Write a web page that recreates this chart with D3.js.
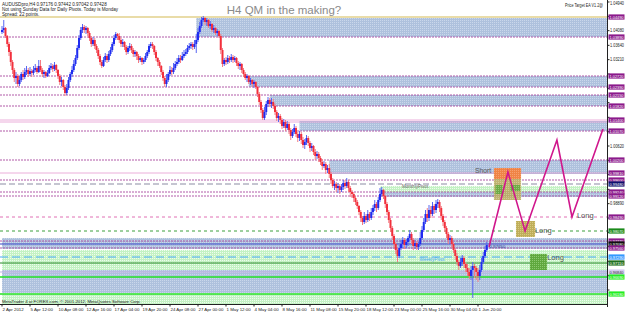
<!DOCTYPE html>
<meta charset="utf-8">
<style>
body { margin: 0; background: #fff; }
svg { display: block; font-family: "Liberation Sans", Arial, sans-serif; }
</style>
<svg width="625" height="313"></svg>
<script src="https://d3js.org/d3.v7.min.js"></script>
<script>

// AUDUSD H4 candles, prices in points (price * 10000)
var firstOpen = 10404;
var closes = [
10410,10416,10392,10368,10344,10314,10290,10266,10272,10248,
10260,10278,10269,10284,10290,10278,10287,10281,10290,10296,
10284,10302,10290,10278,10284,10272,10281,10296,10302,10293,
10305,10290,10272,10254,10260,10239,10221,10236,10260,10278,
10290,10308,10326,10356,10386,10410,10419,10410,10416,10401,
10386,10368,10380,10362,10350,10332,10314,10302,10320,10332,
10320,10338,10350,10368,10386,10398,10392,10380,10368,10374,
10359,10344,10356,10362,10350,10338,10344,10332,10320,10326,
10314,10320,10332,10344,10362,10368,10362,10344,10326,10314,
10302,10284,10266,10248,10260,10278,10290,10284,10296,10308,
10314,10326,10320,10332,10338,10344,10356,10362,10368,10359,
10368,10380,10404,10422,10440,10446,10434,10440,10422,10428,
10410,10416,10401,10407,10392,10350,10308,10320,10314,10326,
10320,10329,10320,10326,10311,10302,10308,10290,10278,10266,
10272,10254,10260,10248,10254,10239,10218,10194,10170,10146,
10164,10188,10200,10188,10194,10182,10164,10146,10152,10140,
10122,10134,10116,10128,10110,10092,10104,10116,10098,10086,
10098,10080,10065,10074,10086,10071,10056,10062,10044,10032,
10038,10026,10014,10002,10008,9990,9996,9978,9960,9942,
9948,9936,9942,9930,9939,9951,9942,9954,9936,9924,
9918,9906,9894,9882,9864,9846,9834,9852,9840,9858,
9846,9864,9876,9888,9876,9900,9918,9930,9912,9888,
9864,9840,9816,9792,9768,9750,9732,9756,9768,9780,
9765,9774,9786,9798,9780,9762,9771,9759,9768,9786,
9810,9834,9858,9846,9870,9858,9882,9870,9888,9894,
9876,9852,9834,9816,9798,9780,9786,9768,9750,9732,
9714,9702,9714,9726,9708,9696,9684,9672,9690,9702,
9696,9684,9672,9690,9714,9732,9750,9765];
var highs = [
10422,10440,10419,10395,10374,10350,10320,10296,10284,10278,
10272,10284,10290,10296,10302,10296,10299,10293,10302,10308,
10302,10320,10320,10296,10290,10287,10290,10305,10311,10308,
10314,10308,10293,10278,10269,10263,10245,10248,10269,10284,
10302,10320,10335,10365,10395,10419,10428,10425,10422,10419,
10407,10392,10389,10386,10368,10356,10338,10320,10329,10341,
10338,10347,10359,10374,10395,10404,10401,10401,10386,10383,
10377,10365,10362,10371,10368,10356,10350,10347,10338,10332,
10329,10326,10341,10350,10368,10374,10374,10365,10350,10329,
10320,10305,10290,10272,10278,10284,10302,10299,10311,10317,
10326,10335,10335,10344,10350,10353,10365,10371,10374,10374,
10380,10398,10416,10434,10449,10452,10449,10446,10443,10437,
10431,10425,10419,10413,10410,10398,10356,10326,10329,10335,
10332,10338,10335,10332,10329,10317,10314,10311,10296,10284,
10278,10275,10266,10263,10260,10257,10242,10224,10200,10176,
10179,10197,10209,10206,10206,10203,10188,10170,10161,10158,
10146,10143,10140,10137,10134,10116,10113,10128,10122,10104,
10107,10104,10089,10083,10095,10092,10077,10071,10065,10053,
10047,10044,10032,10023,10017,10014,10005,10008,9984,9966,
9957,9954,9951,9948,9948,9960,9960,9966,9960,9942,
9930,9924,9912,9900,9885,9870,9852,9864,9858,9870,
9864,9876,9885,9900,9894,9909,9936,9939,9933,9915,
9894,9870,9846,9822,9798,9774,9756,9765,9780,9789,
9786,9783,9792,9810,9804,9786,9780,9777,9774,9804,
9822,9846,9870,9876,9885,9882,9894,9888,9900,9903,
9900,9882,9858,9840,9822,9804,9795,9792,9774,9756,
9741,9720,9726,9735,9732,9714,9708,9696,9702,9714,
9708,9702,9696,9705,9726,9744,9762,9774];
var lows = [
10398,10401,10386,10359,10332,10302,10278,10254,10248,10239,
10242,10254,10260,10263,10275,10269,10272,10269,10275,10284,
10278,10281,10284,10269,10266,10266,10269,10278,10290,10284,
10287,10281,10263,10245,10242,10230,10212,10215,10230,10254,
10269,10284,10302,10320,10350,10380,10401,10401,10398,10392,
10377,10359,10362,10353,10341,10323,10305,10296,10299,10314,
10311,10314,10332,10344,10362,10380,10380,10371,10359,10359,
10350,10335,10338,10347,10341,10329,10329,10320,10311,10314,
10305,10308,10314,10326,10338,10356,10353,10335,10317,10302,
10296,10275,10257,10239,10239,10254,10272,10275,10278,10290,
10302,10308,10311,10317,10326,10332,10338,10350,10353,10350,
10353,10341,10374,10398,10416,10434,10425,10422,10416,10413,
10404,10401,10395,10392,10386,10338,10299,10302,10305,10308,
10311,10314,10311,10314,10302,10293,10290,10281,10269,10260,
10254,10248,10245,10239,10236,10233,10209,10185,10161,10140,
10140,10155,10179,10179,10176,10173,10155,10137,10134,10128,
10113,10116,10107,10110,10098,10080,10086,10098,10089,10074,
10077,10068,10056,10053,10065,10062,10044,10047,10035,10020,
10023,10014,10005,9990,9996,9978,9981,9966,9948,9936,
9930,9924,9921,9918,9924,9930,9933,9936,9924,9909,
9906,9894,9885,9873,9855,9834,9825,9828,9831,9834,
9837,9840,9855,9867,9864,9870,9894,9912,9903,9876,
9855,9831,9804,9780,9756,9738,9714,9726,9750,9756,
9753,9756,9762,9777,9768,9750,9753,9750,9750,9762,
9780,9804,9828,9834,9837,9846,9852,9858,9861,9876,
9864,9840,9822,9804,9786,9768,9768,9756,9741,9720,
9705,9690,9696,9702,9696,9684,9672,9663,9660,9606,
9666,9660,9654,9660,9684,9708,9726,9744];

// time axis labels, one every 16 bars
var dateLabels = ["2 Apr 2012","5 Apr 12:00","10 Apr 08:00","12 Apr 16:00","17 Apr 04:00",
  "19 Apr 20:00","24 Apr 08:00","27 Apr 00:00","1 May 12:00","4 May 04:00","8 May 16:00",
  "11 May 08:00","15 May 20:00","18 May 12:00","23 May 00:00","25 May 16:00","30 May 04:00","1 Jun 20:00"];

// price scale ticks
var priceTicks = [10494,10451,10408,10364,10321,10278,10235,10192,10148,10105,10062,
  10019,9976,9932,9889,9846,9803,9760,9716,9673,9630];

// supply / demand zones
var zoneTops    = [10449,10272,10215,10137,10020,9942,9942,9786,9750,9690,9618];
var zoneBottoms = [10389,10239,10182,10107,9978,9909,9924,9753,9690,9621,9588];
var zoneStart   = [111,141,153,170,187,216,216,0,0,0,0];
var zoneKinds   = ["blue","blue","blue","blue","blue","blue","green","blue","green","blue","green"];

// horizontal levels with price labels on the axis
var levelPrices = [10449,10389,10272,10239,10215,10182,10140,10134,10107,10020,9981,9960,
  9948,9924,9912,9849,9807,9777,9768,9756,9729,9711,9684,9669,9618];
var levelKinds = ["top","sr","sr","sr","sr","sr","pink","pink","sr","sr","pink","sr",
  "monthly","sr","sr","pinkDash","greenDash","sr","blue","sr","weekly","dkgreen","lav","lime","lime"];

// projected zigzag (bar index, price)
var zigBars   = [278.3, 289.1, 298.9, 317.1, 325.7, 343.4];
var zigPrices = [9759, 9984, 9807, 10080, 9849, 10113];

var svg = d3.select("svg");
var W = 607.5, H = 304;

var x = d3.scaleLinear().domain([0, 346]).range([2, W]);
var y = d3.scaleLinear().domain([9588, 10500]).range([H, 0]);
var fmt = function(p) { return (p / 10000).toFixed(5); };

// dotted fills like the MT4 rectangles
var defs = svg.append("defs");
function dots(id, bg, dot) {
  var p = defs.append("pattern").attr("id", id).attr("patternUnits", "userSpaceOnUse")
    .attr("width", 2).attr("height", 2);
  p.append("rect").attr("width", 2).attr("height", 2).attr("fill", bg);
  p.append("rect").attr("width", 1).attr("height", 1).attr("fill", dot);
}
dots("pBlue", "#aec1dd", "#cad7eb");
dots("pGreen", "#c4f2c4", "#eefcee");
dots("pKhaki", "#bfae5a", "#d8c980");
dots("pOlive", "#b9ad62", "#cfc48a");
dots("pGrn", "#5fa83e", "#8cc870");
dots("pOrange", "#ef8446", "#f6a070");

svg.append("rect").attr("width", 625).attr("height", 313).attr("fill", "#fff");

var plot = svg.append("g");

// zones
plot.selectAll("rect.zone").data(zoneTops).enter().append("rect")
  .attr("class", "zone")
  .attr("x", function(d, i) { return x(zoneStart[i]); })
  .attr("width", function(d, i) { return W - x(zoneStart[i]); })
  .attr("y", function(d) { return y(d); })
  .attr("height", function(d, i) { return y(zoneBottoms[i]) - y(d); })
  .attr("fill", function(d, i) { return zoneKinds[i] == "blue" ? "url(#pBlue)" : "url(#pGreen)"; });

// level lines: stroke, width, dash, label box, label text
var lineStyle = {
  top: ["#e9dca8", 2, null, "#8b1a8b", "#fff"],
  sr: ["#a8489e", 0.9, "2,1", "#8b1a8b", "#fff"],
  pink: ["#e69ad0", 0.8, null, "#8b1a8b", "#fff"],
  monthly: ["#8c8ca4", 1.2, "6,3", "#10106e", "#fff"],
  pinkDash: ["#e070b4", 1, "3,3", "#8b1a8b", "#fff"],
  greenDash: ["#3ca03c", 1, "3,3", "#1a8a1a", "#fff"],
  blue: ["#3848c8", 1.2, null, "#101010", "#fff"],
  weekly: ["#49aaf5", 1.2, "8,4", "#3399ff", "#fff"],
  dkgreen: ["#2a8a2a", 1, null, "#1f6f1f", "#fff"],
  lav: ["#c4b4e4", 1.2, null, "#d4ccf0", "#333"],
  lime: ["#22e022", 1.6, null, "#22ee22", "#fff"]
};
plot.selectAll("line.level").data(levelPrices).enter().append("line")
  .attr("x1", 0).attr("x2", W)
  .attr("y1", function(d) { return y(d); }).attr("y2", function(d) { return y(d); })
  .attr("stroke", function(d, i) { return lineStyle[levelKinds[i]][0]; })
  .attr("stroke-width", function(d, i) { return lineStyle[levelKinds[i]][1]; })
  .attr("stroke-dasharray", function(d, i) { return lineStyle[levelKinds[i]][2]; });

// candles
var candles = closes.map(function(c, i) {
  var o = i ? closes[i - 1] : firstOpen;
  return { i: i, o: o, c: c, h: Math.max(highs[i], o, c), l: Math.min(lows[i], o, c) };
});
var cg = plot.append("g");
cg.selectAll("line").data(candles).enter().append("line")
  .attr("x1", function(d) { return x(d.i); }).attr("x2", function(d) { return x(d.i); })
  .attr("y1", function(d) { return y(d.h); }).attr("y2", function(d) { return y(d.l); })
  .attr("stroke", function(d) { return d.c >= d.o ? "#5866f2" : "#f47c84"; })
  .attr("stroke-width", 1);
cg.selectAll("rect").data(candles).enter().append("rect")
  .attr("x", function(d) { return x(d.i) - 1; })
  .attr("width", 2)
  .attr("y", function(d) { return y(Math.max(d.o, d.c)); })
  .attr("height", function(d) { return Math.max(1, Math.abs(y(d.o) - y(d.c))); })
  .attr("fill", function(d) { return d.c >= d.o ? "#1f2cf0" : "#f2303c"; });

// target boxes
function box(b0, b1, p0, p1, fill, op) {
  plot.append("rect").attr("x", x(b0)).attr("width", x(b1) - x(b0))
    .attr("y", y(p0)).attr("height", y(p1) - y(p0)).attr("fill", fill).attr("opacity", op || 1);
}
box(281.1, 296.6, 9963, 9900, "url(#pOlive)", 0.9);
box(281.1, 296.6, 9996, 9963, "url(#pOrange)");
box(282.0, 286.0, 9945, 9918, "url(#pGrn)", 0.85);
box(290.5, 296.0, 9945, 9927, "url(#pGrn)", 0.85);
box(293.7, 304.6, 9837, 9789, "url(#pKhaki)");
box(301.7, 311.4, 9738, 9690, "url(#pGrn)");

// zigzag projection
var zig = d3.line().x(function(d) { return x(d[0]); }).y(function(d) { return y(d[1]); });
plot.append("path").datum(zigBars.map(function(b, i) { return [b, zigPrices[i]]; }))
  .attr("d", zig).attr("fill", "none").attr("stroke", "#d0168c").attr("stroke-width", 1.6);

// annotations
function note(t, b, p, size, col) {
  return plot.append("text").attr("x", x(b)).attr("y", y(p)).attr("font-size", size)
    .attr("fill", col).text(t);
}
note("Short", 270.3, 9981, 6.8, "#555");
note("Long", 304.5, 9800, 7.5, "#555");
note("Long", 311.5, 9720, 7.5, "#555");
note("Long", 328.5, 9845, 7.5, "#555");
note("MonthlyPivot", 228.5, 9937, 4.6, "#666");
note("WeeklyPivot", 238.5, 9717, 4.6, "#49aaf5");
note(fmt(closes[closes.length - 1]), 278.5, 9755, 4.4, "#2a3a9a");

// frame and axes
svg.append("line").attr("x1", W).attr("x2", W).attr("y1", 0).attr("y2", H + 3)
  .attr("stroke", "#222").attr("stroke-width", 1);
svg.append("line").attr("x1", 0).attr("x2", W).attr("y1", H + 0.5).attr("y2", H + 0.5)
  .attr("stroke", "#222").attr("stroke-width", 1);

// plain price ticks; those sitting under a level label are covered in the original
var freeTicks = priceTicks.filter(function(t) {
  return levelPrices.every(function(p) { return Math.abs(y(p) - y(t)) > 5; });
});
var ax = svg.append("g").attr("font-size", 4.6).attr("fill", "#222");
ax.selectAll("text.pt").data(freeTicks).enter().append("text")
  .attr("x", W + 2.5).attr("y", function(d) { return Math.max(y(d) + 1.7, 5); })
  .attr("textLength", 14).attr("lengthAdjust", "spacingAndGlyphs").text(fmt);
ax.selectAll("line.pt").data(priceTicks).enter().append("line")
  .attr("x1", W).attr("x2", W + 2).attr("y1", function(d) { return y(d); })
  .attr("y2", function(d) { return y(d); }).attr("stroke", "#222");

// coloured level labels on the price scale (a line hugging the one above shares its label)
var labelled = levelPrices.filter(function(p, i) {
  return !(i > 0 && levelKinds[i] == "pink" && levelKinds[i - 1] == "pink");
});
var lab = ax.selectAll("g.lab").data(labelled).enter().append("g")
  .attr("transform", function(d) { return "translate(" + (W + 1) + "," + y(d) + ")"; });
lab.append("rect").attr("x", 0).attr("y", -2.6).attr("width", 16).attr("height", 5.2)
  .attr("fill", function(d) { return lineStyle[levelKinds[levelPrices.indexOf(d)]][3]; });
lab.append("text").attr("x", 1).attr("y", 1.6).attr("font-size", 4.2)
  .attr("textLength", 14).attr("lengthAdjust", "spacingAndGlyphs")
  .attr("fill", function(d) { return lineStyle[levelKinds[levelPrices.indexOf(d)]][4]; }).text(fmt);

ax.selectAll("text.dt").data(dateLabels).enter().append("text")
  .attr("x", function(d, i) { return x(i * 16) + 0.5; }).attr("y", 310.5)
  .attr("font-size", 4.4).text(function(d) { return d; });
ax.selectAll("line.dt").data(dateLabels).enter().append("line")
  .attr("x1", function(d, i) { return x(i * 16); }).attr("x2", function(d, i) { return x(i * 16); })
  .attr("y1", H).attr("y2", H + 2.5).attr("stroke", "#222");

// chart texts
var info = svg.append("g").attr("font-size", 4.6).attr("fill", "#222");
info.append("text").attr("x", 2).attr("y", 5.5).text("AUDUSDpro,H4  0.97176 0.97442 0.97042 0.97428");
info.append("text").attr("x", 2).attr("y", 10.5).text("Not using Sunday Data for Daily Pivots.   Today is Monday");
info.append("text").attr("x", 2).attr("y", 15.5).text("Spread: 22 points.");
info.append("text").attr("x", 565).attr("y", 6.5).attr("textLength", 38)
  .attr("lengthAdjust", "spacingAndGlyphs").text("Price Target EA V1.2@");
info.append("text").attr("x", 2).attr("y", 302.5).attr("font-size", 4.3)
  .text("MetaTrader 4 at FOREX.com, \u00a9 2001-2012, MetaQuotes Software Corp.");

svg.append("text").attr("x", 284).attr("y", 14).attr("text-anchor", "middle")
  .attr("font-size", 11.5).attr("fill", "#8a8a8a").text("H4 QM in the making?");

</script>
